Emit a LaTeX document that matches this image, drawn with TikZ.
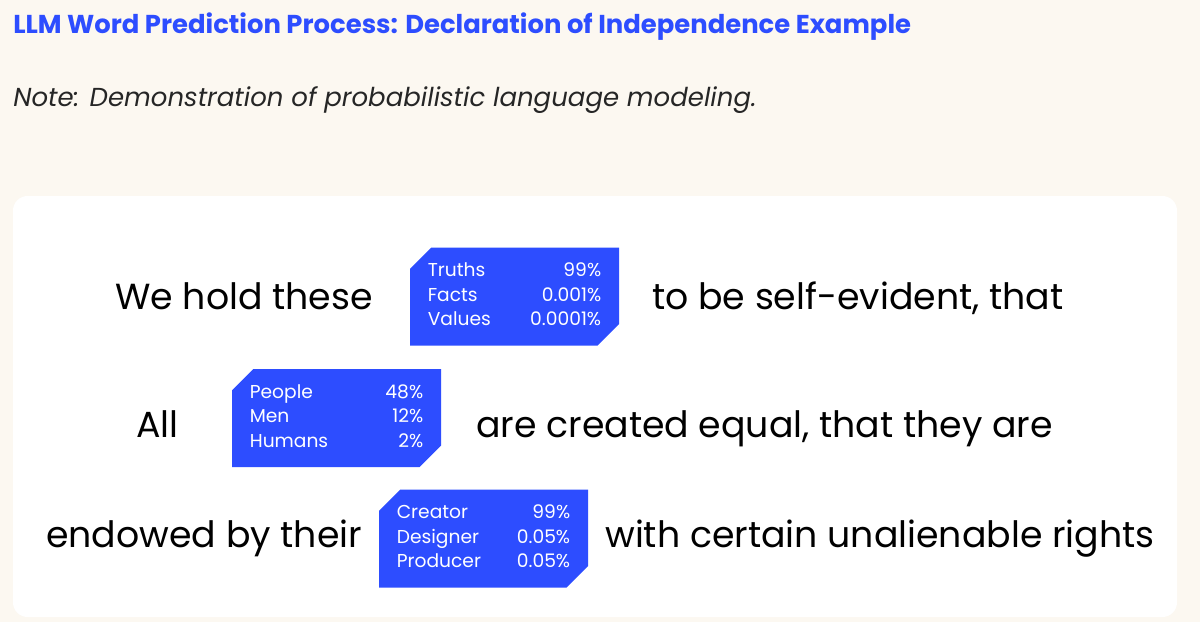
\documentclass[tikz,border=0pt]{standalone}
\usepackage{fontspec}
\setmainfont{Poppins}
\definecolor{predblue}{HTML}{2D4DFF}
\definecolor{cream}{HTML}{FCF8F1}
\definecolor{notegray}{HTML}{262626}

\begin{document}
\begin{tikzpicture}[x=0.75pt,y=-0.75pt,%
% common options for the sentence pieces:
words/.style = {anchor=base west, inner sep=0, font=\fontsize{27.2}{32}\selectfont},
% common options for the blue candidate boxes:
choices/.style = {rectangle, minimum width=156.75pt, minimum height=73.5pt,
            inner sep=0, text=white, font=\fontsize{14}{18.4}\selectfont,
            path picture={\fill[predblue]
              ([yshift=-16pt]path picture bounding box.north west) --
              ([xshift=16pt]path picture bounding box.north west) --
              (path picture bounding box.north east) --
              ([yshift=16pt]path picture bounding box.south east) --
              ([xshift=-16pt]path picture bounding box.south east) --
              (path picture bounding box.south west) -- cycle;}}]
\fill[cream] (0,0) rectangle (1200,622);
\useasboundingbox (0,0) rectangle (1200,622);
\fill[white, rounded corners=11pt] (13,196) rectangle (1177,617);
\node[anchor=base west, inner sep=0, text=predblue, font=\bfseries\fontsize{19.4}{22}\selectfont] (title) at (13,33) {LLM Word Prediction Process: Declaration of Independence Example};
\node[anchor=base west, inner sep=0, text=notegray, font=\itshape\fontsize{19.5}{22}\selectfont] (note) at (13,106) {Note: Demonstration of probabilistic language modeling.};
\node[words] (W1) at (115,309) {We hold these};
\node[choices] (C1) at (514.5,296.5) {\begin{tabular*}{130pt}{@{}l@{\extracolsep{\fill}}r@{}}Truths & 99\%\\ Facts & 0.001\%\\ Values & 0.0001\%\end{tabular*}};
\node[words] (W2) at (652,309) {to be self-evident, that};
\node[words] (W3) at (136,437) {All};
\node[choices] (C2) at (336.5,418) {\begin{tabular*}{130pt}{@{}l@{\extracolsep{\fill}}r@{}}People & 48\%\\ Men & 12\%\\ Humans & 2\%\end{tabular*}};
\node[words] (W4) at (476,437) {are created equal, that they are};
\node[words] (W5) at (46,547) {endowed by their};
\node[choices] (C3) at (483.5,538.5) {\begin{tabular*}{130pt}{@{}l@{\extracolsep{\fill}}r@{}}Creator & 99\%\\ Designer & 0.05\%\\ Producer & 0.05\%\end{tabular*}};
\node[words] (W6) at (605,547) {with certain unalienable rights};
\end{tikzpicture}
\end{document}
